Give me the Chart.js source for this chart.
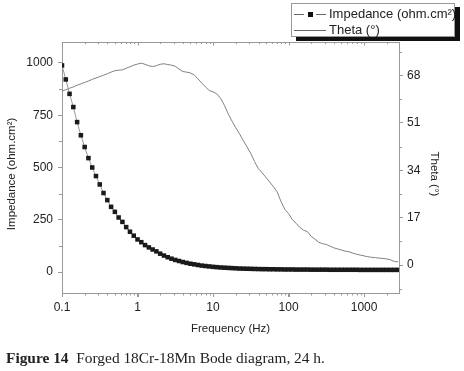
<!DOCTYPE html>
<html>
<head>
<meta charset="utf-8">
<script src="https://cdn.jsdelivr.net/npm/chart.js@4.4.1/dist/chart.umd.min.js"></script>
<style>
  body { margin: 0; background: #fff; }
  #wrap { position: relative; width: 464px; height: 371px; }
  #legend {
    position: absolute; left: 291px; top: 3px; width: 162px; height: 32px;
    border: 1px solid #999; background: #fff; box-shadow: 5px 4px 0 #111;
    font-family: 'Liberation Sans', Arial, sans-serif; font-size: 13px; color: #222;
  }
  .row { position: absolute; left: 0; height: 16px; line-height: 16px; }
  .sample { position: absolute; left: 2px; top: 8px; width: 32px; border-top: 1px solid #666; }
  .gap { position: absolute; left: 10px; top: -1px; width: 12px; height: 1px; background: #fff; }
  .mark { position: absolute; left: 14px; top: -3px; width: 5px; height: 5px; background: #111; }
  .txt { position: absolute; left: 37px; top: 0; white-space: nowrap; }
  #caption {
    position: absolute; left: 6px; top: 349px; white-space: nowrap;
    font-family: 'Liberation Serif', 'DejaVu Serif', serif; font-size: 15.4px; color: #222;
  }
</style>
</head>
<body>
<div id="wrap">
  <canvas id="bode" width="464" height="371"></canvas>
  <div id="legend">
    <div class="row" style="top:2px"><div class="sample"><div class="gap"></div><div class="mark"></div></div><span class="txt">Impedance (ohm.cm²)</span></div>
    <div class="row" style="top:18px"><div class="sample"></div><span class="txt">Theta (°)</span></div>
  </div>
  <div id="caption"><b>Figure 14</b>&nbsp; Forged 18Cr-18Mn Bode diagram, 24 h.</div>
</div>
<script>
// frequencies (Hz), 20 points per decade
const frequency = [
  0.1, 0.1122, 0.1259, 0.1413, 0.1585, 0.1778, 0.1995, 0.2239, 0.2512, 0.2818,
  0.3162, 0.3548, 0.3981, 0.4467, 0.5012, 0.5623, 0.631, 0.7079, 0.7943, 0.8913,
  1, 1.122, 1.259, 1.413, 1.585, 1.778, 1.995, 2.239, 2.512, 2.818,
  3.162, 3.548, 3.981, 4.467, 5.012, 5.623, 6.31, 7.079, 7.943, 8.913,
  10, 11.22, 12.59, 14.13, 15.85, 17.78, 19.95, 22.39, 25.12, 28.18,
  31.62, 35.48, 39.81, 44.67, 50.12, 56.23, 63.1, 70.79, 79.43, 89.13,
  100, 112.2, 125.9, 141.3, 158.5, 177.8, 199.5, 223.9, 251.2, 281.8,
  316.2, 354.8, 398.1, 446.7, 501.2, 562.3, 631, 707.9, 794.3, 891.3,
  1000, 1122, 1259, 1413, 1585, 1778, 1995, 2239, 2512, 2818
];
const impedance = [
  988, 921, 852, 789, 717, 654, 598, 545, 500, 459,
  419, 378, 344, 312, 288, 261, 240, 215, 193, 174,
  156, 143, 129, 118, 108, 99, 88, 79, 71, 64,
  58, 53, 48, 44, 40, 37, 34, 31, 29, 27,
  25, 23.5, 22, 21, 20, 19, 18, 17, 16.5, 16,
  15.5, 15, 14.5, 14, 14, 13.5, 13.5, 13, 13, 12.5,
  12.5, 12.5, 12, 12, 12, 12, 11.5, 11.5, 11.5, 11.5,
  11.5, 11, 11, 11, 11, 11, 11, 11, 11, 10.5,
  10.5, 10.5, 10.5, 10.5, 10.5, 10.5, 10.5, 10.5, 10.5, 10.5
];
const theta = [
  62.4, 62.9, 63.4, 63.9, 64.5, 65.0, 65.5, 66.0, 66.6, 67.1,
  67.6, 68.1, 68.6, 69.2, 69.7, 69.9, 70.0, 70.6, 71.1, 71.7,
  72.1, 72.4, 72.0, 71.5, 71.2, 71.5, 72.0, 72.2, 71.9, 71.7,
  71.3, 70.3, 69.4, 69.2, 68.9, 68.2, 66.8, 65.3, 63.9, 62.6,
  62.1, 61.4, 59.8, 57.3, 54.3, 51.7, 49.3, 47.1, 44.7, 42.4,
  40.0, 37.1, 34.6, 33.1, 31.5, 29.8, 28.1, 26.2, 22.8, 20.0,
  18.5, 16.3, 15.0, 13.5, 12.5, 12.0, 10.3, 9.3, 8.2, 7.7,
  7.4, 6.8, 6.2, 5.8, 5.4, 5.0, 4.8, 4.3, 3.9, 3.6,
  3.3, 3.0, 2.8, 2.7, 2.5, 2.4, 2.2, 1.9, 1.3, 1.2
];
const xTicks = [0.1, 1, 10, 100, 1000];
const yTicks = [0, 250, 500, 750, 1000];
const thetaTicks = [0, 17, 34, 51, 68];

const AXIS = '#999';
const FONT = "'Liberation Sans', Arial, sans-serif";

// minor ticks + top frame, drawn through the chart scales
const frameTicks = {
  id: 'frameTicks',
  afterDraw(chart) {
    const {ctx, chartArea: a, scales} = chart;
    ctx.save();
    ctx.strokeStyle = AXIS;
    ctx.lineWidth = 1;
    ctx.beginPath();
    ctx.moveTo(a.left, a.top + 0.5);
    ctx.lineTo(a.right, a.top + 0.5);
    // x: decades and minors, bottom outward, top inward
    for (let d = 0.1; d < 1e4; d *= 10) {
      for (let m = 1; m < 10; m++) {
        const v = d * m;
        if (v < scales.x.min || v > scales.x.max) continue;
        const px = Math.round(scales.x.getPixelForValue(v)) + 0.5;
        const major = m === 1;
        ctx.moveTo(px, a.bottom);
        ctx.lineTo(px, a.bottom + (major ? 4 : 2.5));
        ctx.moveTo(px, a.top);
        ctx.lineTo(px, a.top + (major ? 3.5 : 2));
      }
    }
    // y minors (half step)
    const minors = (ticks, scale) => {
      const step = ticks[1] - ticks[0];
      const out = [];
      for (let v = ticks[0] - step / 2; v <= scale.max; v += step) {
        if (v >= scale.min) out.push(v);
      }
      return out;
    };
    minors(yTicks, scales.y).forEach(v => {
      const py = Math.round(scales.y.getPixelForValue(v)) + 0.5;
      ctx.moveTo(a.left, py);
      ctx.lineTo(a.left - 3, py);
    });
    minors(thetaTicks, scales.y1).forEach(v => {
      const py = Math.round(scales.y1.getPixelForValue(v)) + 0.5;
      ctx.moveTo(a.right, py);
      ctx.lineTo(a.right + 3, py);
    });
    ctx.stroke();
    ctx.restore();
  }
};

const axisCommon = {
  border: { color: AXIS, width: 1 },
  grid: { drawOnChartArea: false, tickLength: 4, tickColor: AXIS },
  ticks: { color: '#222', font: { family: FONT, size: 12 }, autoSkip: false, maxRotation: 0, callback: v => String(v) }
};

new Chart(document.getElementById('bode'), {
  type: 'line',
  data: {
    datasets: [
      {
        label: 'Impedance (ohm.cm²)',
        data: frequency.map((f, i) => ({ x: f, y: impedance[i] })),
        yAxisID: 'y',
        borderColor: '#999',
        borderWidth: 1,
        pointStyle: 'rect',
        pointRadius: 3.2,
        pointBackgroundColor: '#1a1a1a',
        pointBorderWidth: 0
      },
      {
        label: 'Theta (°)',
        data: frequency.map((f, i) => ({ x: f, y: theta[i] })),
        yAxisID: 'y1',
        borderColor: '#808080',
        borderWidth: 1,
        pointRadius: 0
      }
    ]
  },
  options: {
    responsive: false,
    animation: false,
    layout: { padding: { top: 42, right: 0, bottom: 28, left: 0 } },
    plugins: { legend: { display: false }, tooltip: { enabled: false } },
    scales: {
      x: {
        ...axisCommon,
        type: 'logarithmic',
        position: 'bottom',
        min: 0.1,
        max: 2900,
        afterBuildTicks: s => { s.ticks = xTicks.map(v => ({ value: v })); },
        afterFit: s => { s.height = 50; },
        ticks: { ...axisCommon.ticks, padding: 3 },
        title: { display: true, text: 'Frequency (Hz)', color: '#222', font: { family: FONT, size: 11.5 }, padding: { top: 0, bottom: 7 } }
      },
      y: {
        ...axisCommon,
        position: 'left',
        min: -100,
        max: 1100,
        afterBuildTicks: s => { s.ticks = yTicks.map(v => ({ value: v })); },
        afterFit: s => { s.width = 62; },
        ticks: { ...axisCommon.ticks, padding: 5 },
        title: { display: true, text: 'Impedance (ohm.cm²)    ', color: '#222', font: { family: FONT, size: 11.5 }, padding: { top: 5, bottom: 0 } }
      },
      y1: {
        ...axisCommon,
        position: 'right',
        min: -10,
        max: 80,
        afterBuildTicks: s => { s.ticks = thetaTicks.map(v => ({ value: v })); },
        afterFit: s => { s.width = 65; },
        ticks: { ...axisCommon.ticks, padding: 4 },
        title: { display: true, text: '    Theta (°)', color: '#222', font: { family: FONT, size: 11.5 }, padding: { top: 23, bottom: 0 } }
      }
    }
  },
  plugins: [frameTicks]
});
</script>
</body>
</html>
